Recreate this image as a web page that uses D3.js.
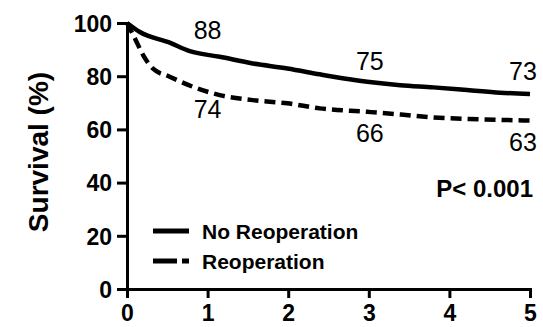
<!DOCTYPE html>
<html>
<head>
<meta charset="utf-8">
<script src="https://cdn.jsdelivr.net/npm/d3@7"></script>
<style>
  body { margin: 0; background: #fff; }
  svg { display: block; }
  text { font-family: Arial, "Liberation Sans", sans-serif; fill: #000; }
</style>
</head>
<body>
<div id="chart"></div>
<script>
// years after surgery / survival %
var noReopTime = [0, 0.16, 0.53, 0.78, 1.15, 1.56, 1.99, 2.39, 2.56, 2.98, 3.39, 3.8, 4.22, 4.63, 5];
var noReopSurv = [100, 96.6, 92.6, 89.4, 87.3, 84.8, 82.9, 80.7, 79.8, 77.9, 76.6, 75.8, 74.8, 73.8, 73.3];

var reopTime = [0, 0.1, 0.2, 0.32, 0.53, 0.82, 1.15, 1.56, 1.99, 2.39, 2.98, 3.4, 3.8, 4.4, 5];
var reopSurv = [100, 94.1, 87.9, 82.9, 79.8, 76, 72.9, 71, 69.8, 67.9, 66.6, 65.6, 64.5, 63.8, 63.3];

// numbers printed on the curves (group, time, value, pixel offset from curve)
var annotations = [
  {g: 0, t: 1, v: 88, dy: -24, dx: 0}, {g: 0, t: 3, v: 75, dy: -21, dx: 1}, {g: 0, t: 5, v: 73, dy: -23, dx: -7},
  {g: 1, t: 1, v: 74, dy: 18, dx: 0}, {g: 1, t: 3, v: 66, dy: 21, dx: 1}, {g: 1, t: 5, v: 63, dy: 22, dx: -7}
];

var xTicks = [0, 1, 2, 3, 4, 5];
var yTicks = [0, 20, 40, 60, 80, 100];

var width = 543, height = 327;
var margin = {top: 23, right: 13, bottom: 38, left: 127};

var svg = d3.select("#chart").append("svg")
  .attr("width", width)
  .attr("height", height);

var x = d3.scaleLinear().domain([0, 5]).range([margin.left, width - margin.right]);
var y = d3.scaleLinear().domain([0, 100]).range([height - margin.bottom, margin.top]);

// axes
var xAxis = svg.append("g")
  .attr("transform", "translate(0," + y(0) + ")")
  .call(d3.axisBottom(x).tickValues(xTicks).tickSize(9).tickPadding(7).tickFormat(d3.format("d")));
var yAxis = svg.append("g")
  .attr("transform", "translate(" + x(0) + ",0)")
  .call(d3.axisLeft(y).tickValues(yTicks).tickSize(10).tickPadding(5).tickFormat(d3.format("d")));

[xAxis, yAxis].forEach(function(a) {
  a.select(".domain").attr("stroke", "#000").attr("stroke-width", 3);
  a.selectAll(".tick line").attr("stroke", "#000").attr("stroke-width", 3);
  a.selectAll(".tick text")
    .style("font-family", "Arial, 'Liberation Sans', sans-serif")
    .style("font-weight", "bold")
    .style("font-size", "23px")
    .attr("fill", "#000");
});
yAxis.selectAll(".tick text").attr("dy", "0.36em");

svg.append("text")
  .attr("transform", "translate(48,152) rotate(-90)")
  .attr("text-anchor", "middle")
  .style("font-weight", "bold")
  .style("font-size", "28px")
  .text("Survival (%)");

// survival curves
var series = [d3.zip(noReopTime, noReopSurv), d3.zip(reopTime, reopSurv)];

var line = d3.line()
  .x(function(d) { return x(d[0]); })
  .y(function(d) { return y(d[1]); })
  .curve(d3.curveMonotoneX);

svg.append("path")
  .datum(series[0])
  .attr("fill", "none")
  .attr("stroke", "#000")
  .attr("stroke-width", 4.5)
  .attr("d", line);

svg.append("path")
  .datum(series[1])
  .attr("fill", "none")
  .attr("stroke", "#000")
  .attr("stroke-width", 4.5)
  .attr("stroke-dasharray", "11,6")
  .attr("d", line);

// value labels
annotations.forEach(function(a) {
  var times = a.g === 0 ? noReopTime : reopTime;
  var surv = a.g === 0 ? noReopSurv : reopSurv;
  var yy = d3.scaleLinear().domain(times).range(surv)(a.t);
  svg.append("text")
    .attr("x", x(a.t) + a.dx)
    .attr("y", y(yy) + a.dy)
    .attr("text-anchor", "middle")
    .attr("dy", "0.35em")
    .style("font-size", "25px")
    .text(a.v);
});

svg.append("text")
  .attr("x", 533)
  .attr("y", 197)
  .attr("text-anchor", "end")
  .style("font-weight", "bold")
  .style("font-size", "24px")
  .text("P< 0.001");

// legend
var legend = [
  {name: "No Reoperation", dash: null, y: 231},
  {name: "Reoperation", dash: "24,5,7,20", y: 261}
];
legend.forEach(function(l) {
  svg.append("line")
    .attr("x1", 153).attr("x2", 189)
    .attr("y1", l.y).attr("y2", l.y)
    .attr("stroke", "#000")
    .attr("stroke-width", 5)
    .attr("stroke-dasharray", l.dash);
  svg.append("text")
    .attr("x", 202)
    .attr("y", l.y)
    .attr("dy", "0.36em")
    .style("font-weight", "bold")
    .style("font-size", "21px")
    .text(l.name);
});
</script>
</body>
</html>
